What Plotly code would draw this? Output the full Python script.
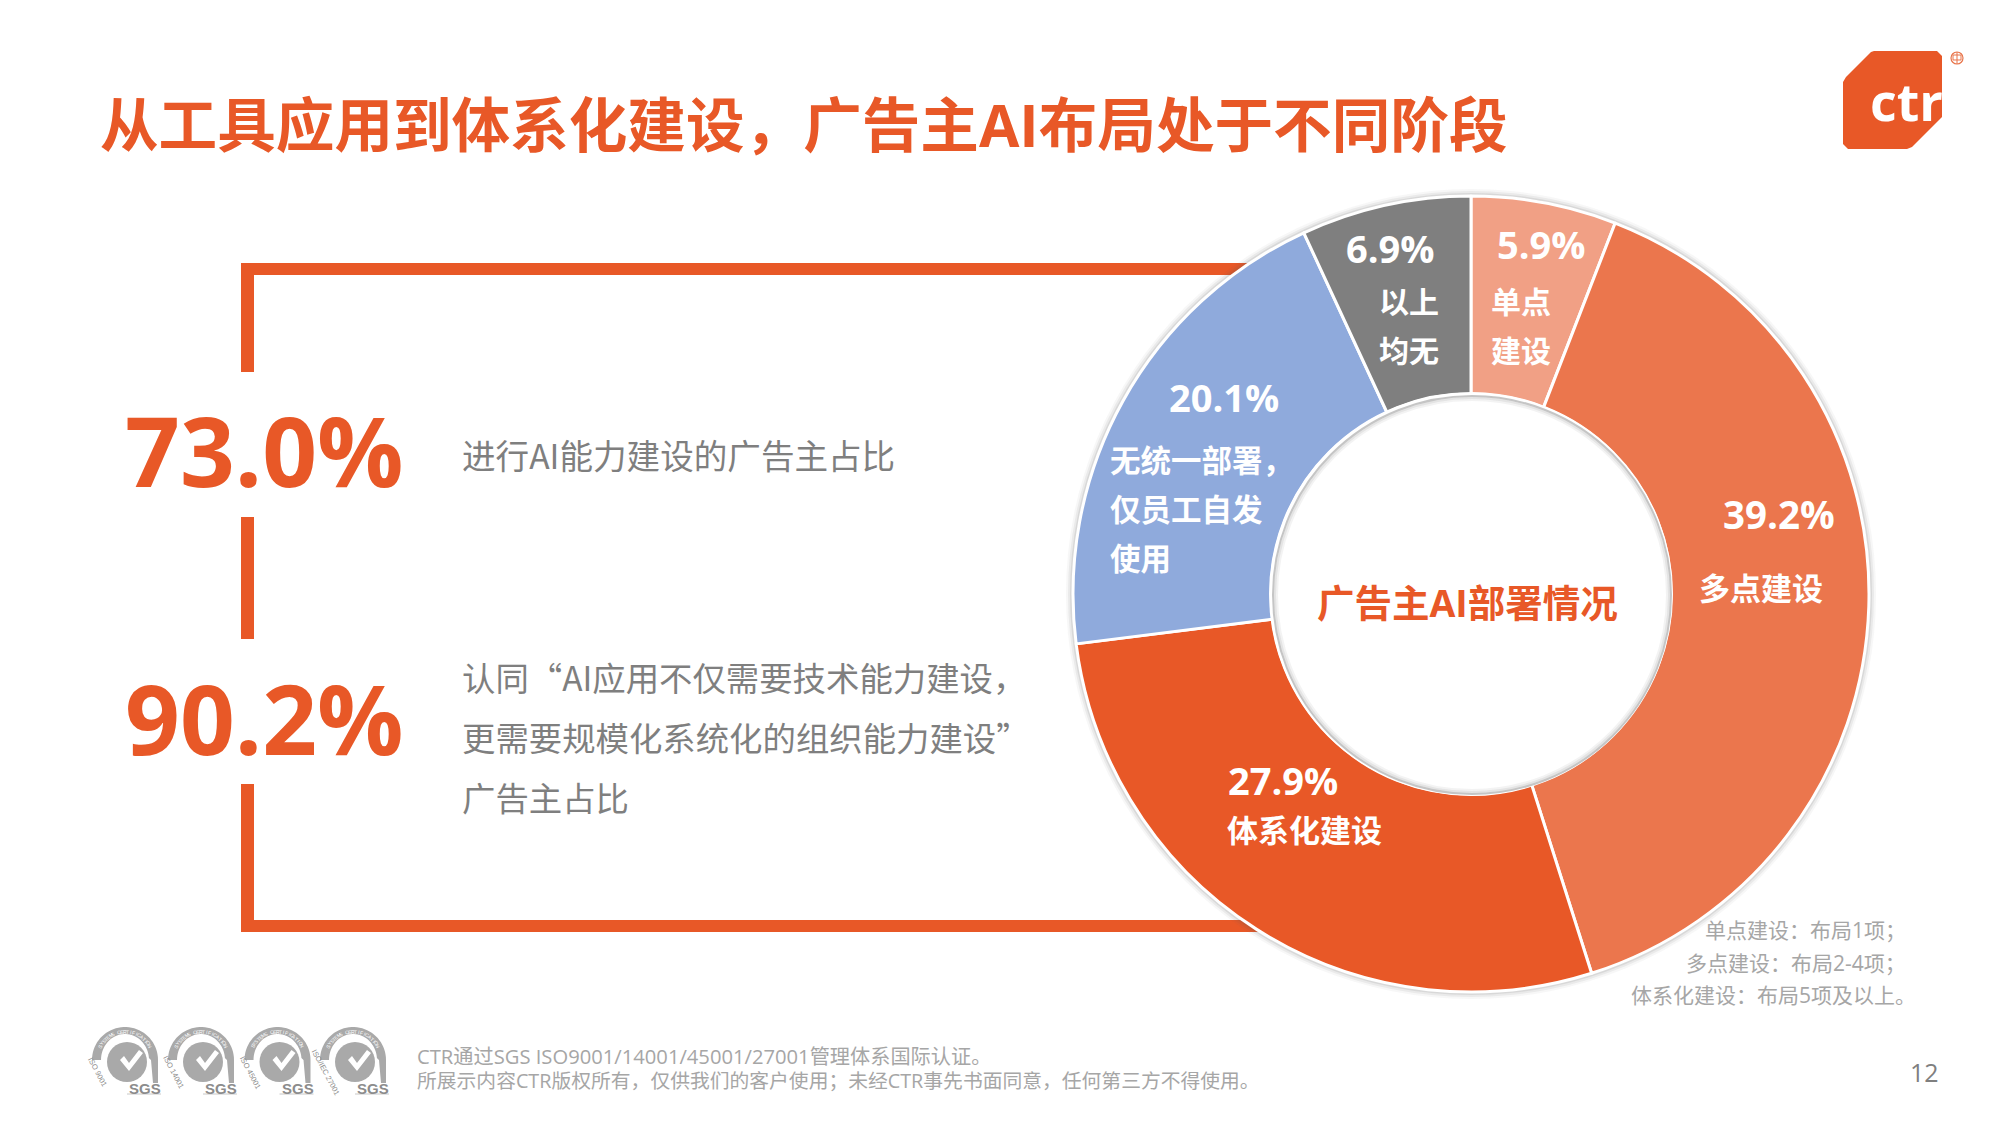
import numpy as np
import plotly.graph_objects as go

W, H = 2000, 1125
ORANGE = "#E85827"
GREY_TEXT = "#7F7F7F"
GREY_NOTE = "#A6A6A6"
FONT = "'Open Sans', 'Noto Sans CJK SC', sans-serif"
CJK_FONT = "'Noto Sans CJK SC', sans-serif"

# Donut data, clockwise from twelve o'clock
segments = ["单点建设", "多点建设", "体系化建设", "无统一部署，仅员工自发使用", "以上均无"]
shares = [5.9, 39.2, 27.9, 20.1, 6.9]
segment_colors = ["#F1A085", "#EB764D", "#E85827", "#8FAADC", "#7F7F7F"]

# Headline figures
headline_values = [73.0, 90.2]
iso_labels = ["ISO 9001", "ISO 14001", "ISO 45001", "ISO/IEC 27001"]


def fx(x):
    return x / W


def fy(y):
    return 1 - y / H


def poly(points, close=True):
    body = " L ".join(f"{fx(x):.5f},{fy(y):.5f}" for x, y in points)
    return "M " + body + (" Z" if close else "")


shapes = []
annotations = []


def rect(x0, y0, x1, y1, color=ORANGE):
    shapes.append(dict(type="rect", xref="paper", yref="paper", x0=fx(x0), x1=fx(x1),
                       y0=fy(y1), y1=fy(y0), fillcolor=color, line_width=0, layer="below"))


def circle(cx, cy, r, fill=None, line=None, lw=0, layer="below"):
    shapes.append(dict(type="circle", xref="paper", yref="paper", x0=fx(cx - r), x1=fx(cx + r),
                       y0=fy(cy + r), y1=fy(cy - r), fillcolor=fill or "rgba(0,0,0,0)",
                       line=dict(color=line or "rgba(0,0,0,0)", width=lw), layer=layer))


def path(points, fill=None, line=None, lw=0, layer="below", close=True):
    shapes.append(dict(type="path", xref="paper", yref="paper", path=poly(points, close),
                       fillcolor=fill or "rgba(0,0,0,0)",
                       line=dict(color=line or "rgba(0,0,0,0)", width=lw), layer=layer))


def text(x, y, s, size, color=GREY_TEXT, bold=False, anchor="center", family=FONT, angle=0):
    annotations.append(dict(xref="paper", yref="paper", x=fx(x), y=fy(y), text=s, showarrow=False,
                            xanchor=anchor, yanchor="middle", align=anchor, textangle=angle,
                            font=dict(family=family, size=size, color=color,
                                      weight=700 if bold else 400),
                            borderpad=0, borderwidth=0))


# Title
text(100, 124, "从工具应用到体系化建设，广告主AI布局处于不同阶段", 58.6, ORANGE, True, "left")

# Broken frame behind the headline figures
rect(241, 263, 1262, 275)
rect(241, 263, 254, 372)
rect(241, 517, 254, 639)
rect(241, 784, 254, 932)
rect(241, 920, 1262, 932)

# Headline figures and their descriptions
text(264, 449, f"{headline_values[0]:.1f}%", 96, ORANGE, True)
text(264, 717, f"{headline_values[1]:.1f}%", 96, ORANGE, True)
text(462, 455, "进行AI能力建设的广告主占比", 33.6, GREY_TEXT, False, "left", CJK_FONT)
text(462, 676, "认同“AI应用不仅需要技术能力建设，", 33.4, GREY_TEXT, False, "left", CJK_FONT)
text(462, 736, "更需要规模化系统化的组织能力建设”", 33.4, GREY_TEXT, False, "left", CJK_FONT)
text(462, 796, "广告主占比", 33.4, GREY_TEXT, False, "left", CJK_FONT)

# Soft shadow around the donut
CX, CY, R_OUT, R_IN = 1471, 594, 398, 200
for dr, a in [(7, 0.05), (5, 0.08), (3, 0.12), (1, 0.18)]:
    circle(CX, CY, R_OUT + dr, fill=f"rgba(90,90,90,{a})")

# The hole is painted white over the shadow, with a faint rim
circle(CX, CY, R_IN + 1, fill="#FFFFFF", line="#FFFFFF", lw=2, layer="above")
for dr, a in [(1, 0.35), (3, 0.16), (5, 0.07)]:
    circle(CX + 1, CY + 1, R_IN - dr, line=f"rgba(90,90,90,{a})", lw=2, layer="above")

# Labels on the slices
WHITE = "#FFFFFF"
text(1541, 244, f"{shares[0]:.1f}%", 38, WHITE, True)
text(1491, 301, "单点", 30, WHITE, True, "left")
text(1491, 350, "建设", 30, WHITE, True, "left")
text(1390, 248, f"{shares[4]:.1f}%", 38, WHITE, True)
text(1409, 301, "以上", 30, WHITE, True)
text(1409, 350, "均无", 30, WHITE, True)
text(1779, 514, f"{shares[1]:.1f}%", 38.5, WHITE, True)
text(1761, 588, "多点建设", 31, WHITE, True)
text(1283, 780, f"{shares[2]:.1f}%", 38, WHITE, True)
text(1227, 830, "体系化建设", 31, WHITE, True, "left")
text(1224, 397, f"{shares[3]:.1f}%", 38, WHITE, True)
text(1110, 460, "无统一部署，", 30.5, WHITE, True, "left")
text(1110, 509, "仅员工自发", 30.5, WHITE, True, "left")
text(1110, 558, "使用", 30.5, WHITE, True, "left")
text(1467, 602, "广告主AI部署情况", 37.5, ORANGE, True)

# Definitions at the lower right of the donut
text(1906, 930, "单点建设：布局1项；", 21, GREY_NOTE, False, "right")
text(1906, 963, "多点建设：布局2-4项；", 21, GREY_NOTE, False, "right")
text(1916, 995, "体系化建设：布局5项及以上。", 21, GREY_NOTE, False, "right")

# Logo: cut-corner block, wordmark and registered mark
path([(1871, 52), (1874, 51), (1937, 51), (1942, 56), (1942, 117), (1912, 147), (1907, 149),
      (1848, 149), (1843, 144), (1843, 82), (1846, 77)], fill=ORANGE)
text(1906, 101, "ctr", 52, WHITE, True, family="'Open Sans', sans-serif")
circle(1957, 58, 6, line="#E8744A", lw=1.2)
path([(1953, 55), (1961, 55), (1961, 60), (1953, 60)], line="#E8744A", lw=1)
path([(1957, 52), (1957, 64)], line="#E8744A", lw=1, close=False)

# Certification badges
BADGE_GREY = "#A9A9A9"
for left, iso in zip([92, 168, 244.5, 320], iso_labels):
    cx = left + 33
    cy = 1060
    theta = np.radians(np.linspace(180, 360, 40))
    outer = [(cx + 33 * np.cos(t), cy + 33 * np.sin(t)) for t in theta]
    inner = [(cx + 24 * np.cos(t), cy + 26 * np.sin(t)) for t in theta[::-1]]
    path(outer + [(cx + 33, 1083), (cx + 28, 1083), (cx + 26, cy)] + inner[1:-1] + [(cx - 24, cy)],
         fill=BADGE_GREY)
    circle(cx + 2, 1062, 20, fill=BADGE_GREY)
    path([(cx - 5, 1060), (cx - 1, 1056), (cx + 4, 1063), (cx + 14, 1050), (cx + 18, 1053), (cx + 4, 1071)],
         fill=WHITE)
    text(cx + 20, 1088.5, "SGS", 15, "#8C8C8C", True,
         family="'Liberation Sans Narrow', 'Liberation Sans', sans-serif")
    shapes.append(dict(type="line", xref="paper", yref="paper", x0=fx(cx + 2), x1=fx(cx + 36),
                       y0=fy(1094), y1=fy(1094), line=dict(color="#C8C8C8", width=1), layer="below"))
    text(cx - 27, 1072, iso, 7.5, "#8C8C8C", False, angle=62, family="'Liberation Sans', sans-serif")
    # Lettering that follows the top of the arch
    caption = "SYSTEMS CERTIFICATION"
    for k, ch in enumerate(caption):
        a = -150 + 120 * k / (len(caption) - 1)
        text(cx + 28.5 * np.cos(np.radians(a)), cy + 28.5 * np.sin(np.radians(a)), ch, 5, WHITE, False,
             angle=a + 90, family="'Liberation Sans', sans-serif")

# Footer
text(417, 1056, "CTR通过SGS ISO9001/14001/45001/27001管理体系国际认证。", 20.2, GREY_NOTE, False, "left")
text(417, 1080, "所展示内容CTR版权所有，仅供我们的客户使用；未经CTR事先书面同意，任何第三方不得使用。", 19.8, GREY_NOTE, False, "left")
text(1924, 1072, "12", 25, GREY_TEXT)

fig = go.Figure(go.Pie(
    labels=segments,
    values=shares,
    hole=R_IN / R_OUT,
    sort=False,
    direction="clockwise",
    rotation=0,
    textinfo="none",
    hoverinfo="skip",
    marker=dict(colors=segment_colors, line=dict(color="#FFFFFF", width=3)),
    domain=dict(x=[fx(CX - R_OUT), fx(CX + R_OUT)], y=[fy(CY + R_OUT), fy(CY - R_OUT)]),
    showlegend=False,
))

fig.update_layout(
    width=W,
    height=H,
    margin=dict(l=0, r=0, t=0, b=0),
    paper_bgcolor="#FFFFFF",
    plot_bgcolor="#FFFFFF",
    shapes=shapes,
    annotations=annotations,
)

fig.write_html("out.html", config=dict(displayModeBar=False))
